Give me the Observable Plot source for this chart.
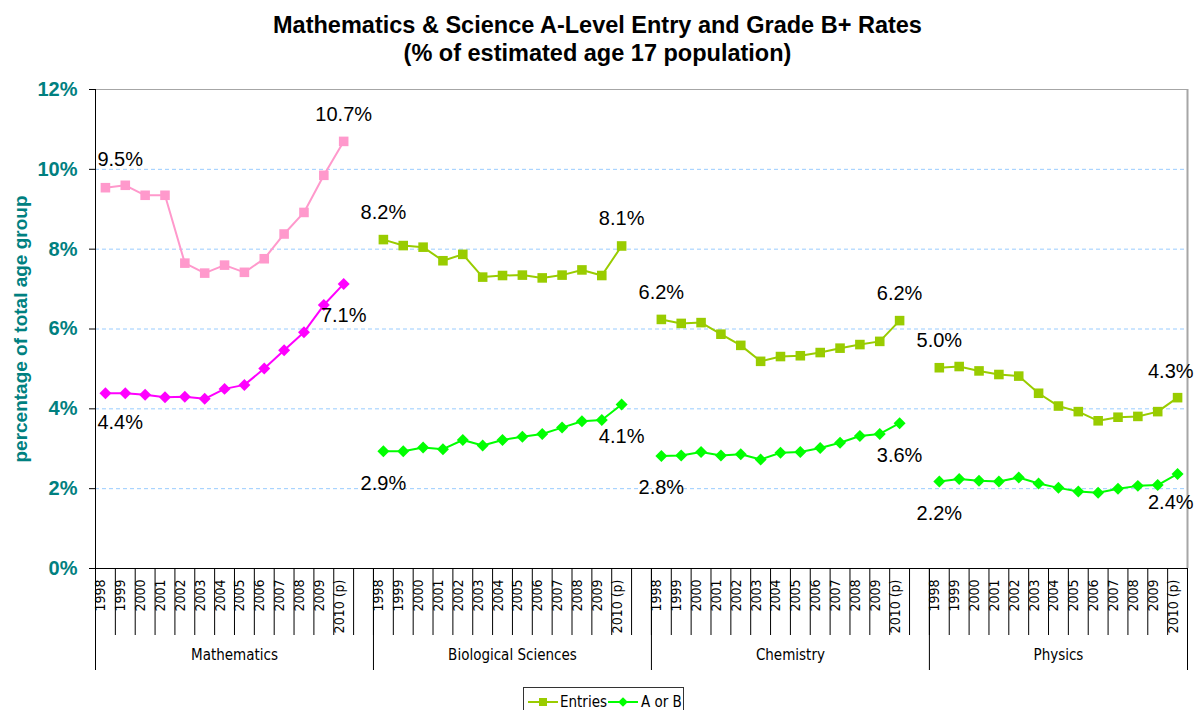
<!DOCTYPE html>
<html>
<head>
<meta charset="utf-8">
<script src="https://cdn.jsdelivr.net/npm/d3@7"></script>
<script src="https://cdn.jsdelivr.net/npm/@observablehq/plot@0.6"></script>
<style>
  body { margin: 0; background: #fff; font-family: "Liberation Sans", Arial, sans-serif; }
  #wrap { position: relative; width: 1195px; height: 710px; overflow: hidden; background: #fff; }
  #title { position: absolute; top: 11px; left: 0; width: 1195px; text-align: center; font-weight: bold; font-size: 23.5px; line-height: 28px; color: #000; }
  #chart { position: absolute; top: 75px; left: 0; }
  #legend { position: absolute; top: 687px; left: 523px; }
</style>
</head>
<body>
<div id="wrap">
  <div id="title">Mathematics &amp; Science A-Level Entry and Grade B+ Rates<br>(% of estimated age 17 population)</div>
  <div id="chart"></div>
  <div id="legend"></div>
</div>
<script>
// ---- data ----
const subjects = ["Mathematics", "Biological Sciences", "Chemistry", "Physics"];
const years = ["1998", "1999", "2000", "2001", "2002", "2003", "2004", "2005", "2006", "2007", "2008", "2009", "2010 (p)"];

const mathEntries = [9.54, 9.6, 9.35, 9.35, 7.65, 7.4, 7.6, 7.42, 7.76, 8.38, 8.92, 9.85, 10.7];
const bioEntries  = [8.24, 8.09, 8.05, 7.71, 7.87, 7.3, 7.34, 7.35, 7.28, 7.35, 7.48, 7.34, 8.08];
const chemEntries = [6.24, 6.14, 6.16, 5.87, 5.59, 5.19, 5.31, 5.33, 5.41, 5.52, 5.61, 5.69, 6.21];
const physEntries = [5.03, 5.06, 4.95, 4.86, 4.82, 4.39, 4.07, 3.93, 3.7, 3.79, 3.81, 3.93, 4.28];

const mathAB = [4.39, 4.39, 4.35, 4.29, 4.3, 4.25, 4.5, 4.6, 5.01, 5.47, 5.92, 6.6, 7.13];
const bioAB  = [2.94, 2.94, 3.03, 2.99, 3.22, 3.08, 3.22, 3.3, 3.37, 3.53, 3.69, 3.72, 4.11];
const chemAB = [2.82, 2.83, 2.92, 2.83, 2.86, 2.73, 2.9, 2.92, 3.02, 3.15, 3.32, 3.37, 3.64];
const physAB = [2.18, 2.24, 2.2, 2.18, 2.28, 2.13, 2.02, 1.93, 1.9, 2.0, 2.07, 2.09, 2.37];

const yTicks = [0, 2, 4, 6, 8, 10, 12];
const seriesNames = ["Entries", "A or B"];

// ---- derived table ----
const entriesBySubject = [mathEntries, bioEntries, chemEntries, physEntries];
const abBySubject = [mathAB, bioAB, chemAB, physAB];
const slotsPerGroup = years.length + 1; // one blank slot between groups
const nSlots = slotsPerGroup * subjects.length - 1;

const rows = [];
subjects.forEach((s, g) => {
  years.forEach((yr, i) => {
    rows.push({
      subject: s, g, i, year: yr,
      pos: g * slotsPerGroup + i + 0.5,
      entries: entriesBySubject[g][i],
      ab: abBySubject[g][i],
      first: i === 0, last: i === years.length - 1
    });
  });
});

const entryColor = d => d.subject === "Mathematics" ? "#FF99CC" : "#99CC00";
const abColor = d => d.subject === "Mathematics" ? "#FF00FF" : "#00FF00";

const minorBounds = d3.range(0, nSlots + 1);
const groupBounds = subjects.map((s, g) => g * slotsPerGroup).concat([nSlots]);
const groupCenters = subjects.map((s, g) => ({subject: s, c: (groupBounds[g] + groupBounds[g + 1]) / 2}));

const fmt = v => v.toFixed(1) + "%";
const labelRows = rows.filter(d => d.first || d.last);
const isLeftEdge = d => d.pos === 0.5;
const isRightEdge = d => d.pos === nSlots - 0.5;
const midLabels = labelRows.filter(d => !isLeftEdge(d) && !isRightEdge(d));
const leftLabels = labelRows.filter(isLeftEdge);
const rightLabels = labelRows.filter(isRightEdge);

const labelFont = {fontSize: 20, fill: "#000", fontFamily: "Liberation Sans, Arial, sans-serif"};
const narrow = "DejaVu Sans Condensed, Liberation Sans Narrow, Liberation Sans, sans-serif";

const chart = Plot.plot({
  width: 1195,
  height: 610,
  marginLeft: 95,
  marginRight: 8,
  marginTop: 14,
  marginBottom: 117,
  style: {fontFamily: "Liberation Sans, Arial, sans-serif", background: "#fff", overflow: "visible"},
  x: {domain: [0, nSlots]},
  y: {domain: [0, 12]},
  color: {type: "identity"},
  marks: [
    Plot.gridY(yTicks.filter(t => t > 0 && t < 12), {stroke: "#99CCFF", strokeOpacity: 1, strokeDasharray: "4,3"}),
    Plot.ruleY([12], {stroke: "#A6A6A6", strokeWidth: 1}),
    Plot.ruleX([nSlots], {y1: 0, y2: 12, stroke: "#A6A6A6", strokeWidth: 2}),
    Plot.axisY({ticks: yTicks, tickFormat: d => d + "%", tickSize: 6, tickPadding: 12, fontSize: 20, fontWeight: "bold", fill: "#008080", stroke: "#000", label: null}),
    Plot.text(["percentage of total age group"], {frameAnchor: "left", textAnchor: "middle", dx: -75, rotate: -90, fill: "#008080", fontWeight: "bold", fontSize: 19}),
    Plot.ruleX([0], {y1: 0, y2: 12, stroke: "#000"}),
    Plot.ruleY([0], {stroke: "#000"}),
    Plot.axisX({ticks: minorBounds, tickSize: 67, tickFormat: () => "", stroke: "#000", label: null}),
    Plot.axisX({ticks: groupBounds, tickSize: 102, tickFormat: () => "", stroke: "#000", label: null}),
    Plot.text(rows, {x: "pos", frameAnchor: "bottom", text: "year", rotate: -90, textAnchor: "end", dy: 11, fontSize: 14, fill: "#000", fontFamily: narrow}),
    Plot.text(groupCenters, {x: "c", frameAnchor: "bottom", text: "subject", dy: 91, fontSize: 15, fill: "#000", fontFamily: narrow}),
    Plot.line(rows, {x: "pos", y: "entries", z: "subject", stroke: entryColor, strokeWidth: 2}),
    Plot.line(rows, {x: "pos", y: "ab", z: "subject", stroke: abColor, strokeWidth: 2}),
    Plot.dot(rows, {x: "pos", y: "entries", symbol: "square", r: 5.4, fill: entryColor, stroke: null}),
    Plot.dot(rows, {x: "pos", y: "ab", symbol: "diamond2", r: 5.4, fill: abColor, stroke: null}),
    Plot.text(midLabels, {x: "pos", y: "entries", text: d => fmt(d.entries), dy: -27, ...labelFont}),
    Plot.text(midLabels, {x: "pos", y: "ab", text: d => fmt(d.ab), dy: 32, ...labelFont}),
    Plot.text(leftLabels, {x: "pos", y: "entries", text: d => fmt(d.entries), dy: -28, dx: -8, textAnchor: "start", ...labelFont}),
    Plot.text(leftLabels, {x: "pos", y: "ab", text: d => fmt(d.ab), dy: 29, dx: -8, textAnchor: "start", ...labelFont}),
    Plot.text(rightLabels, {x: "pos", y: "entries", text: d => fmt(d.entries), dy: -26, dx: 16, textAnchor: "end", ...labelFont}),
    Plot.text(rightLabels, {x: "pos", y: "ab", text: d => fmt(d.ab), dy: 29, dx: 16, textAnchor: "end", ...labelFont})
  ]
});
document.getElementById("chart").appendChild(chart);

// ---- legend ----
const lg = d3.select("#legend").append("svg").attr("width", 162).attr("height", 30)
  .style("font-family", narrow);
lg.append("rect").attr("x", 0.5).attr("y", 0.5).attr("width", 160).attr("height", 40).attr("fill", "#fff").attr("stroke", "#333");
const items = [
  {name: seriesNames[0], color: "#99CC00", sym: d3.symbolSquare, size: 64, x0: 5, tx: 37},
  {name: seriesNames[1], color: "#00FF00", sym: d3.symbolDiamond2, size: 60, x0: 85, tx: 118}
];
items.forEach(it => {
  lg.append("line").attr("x1", it.x0).attr("x2", it.x0 + 30).attr("y1", 15).attr("y2", 15).attr("stroke", it.color).attr("stroke-width", 2);
  lg.append("path").attr("d", d3.symbol(it.sym, it.size)()).attr("transform", `translate(${it.x0 + 15},15)`).attr("fill", it.color);
  lg.append("text").attr("x", it.tx).attr("y", 15).attr("dy", "0.35em").attr("font-size", 15).attr("fill", "#000").text(it.name);
});
</script>
</body>
</html>
